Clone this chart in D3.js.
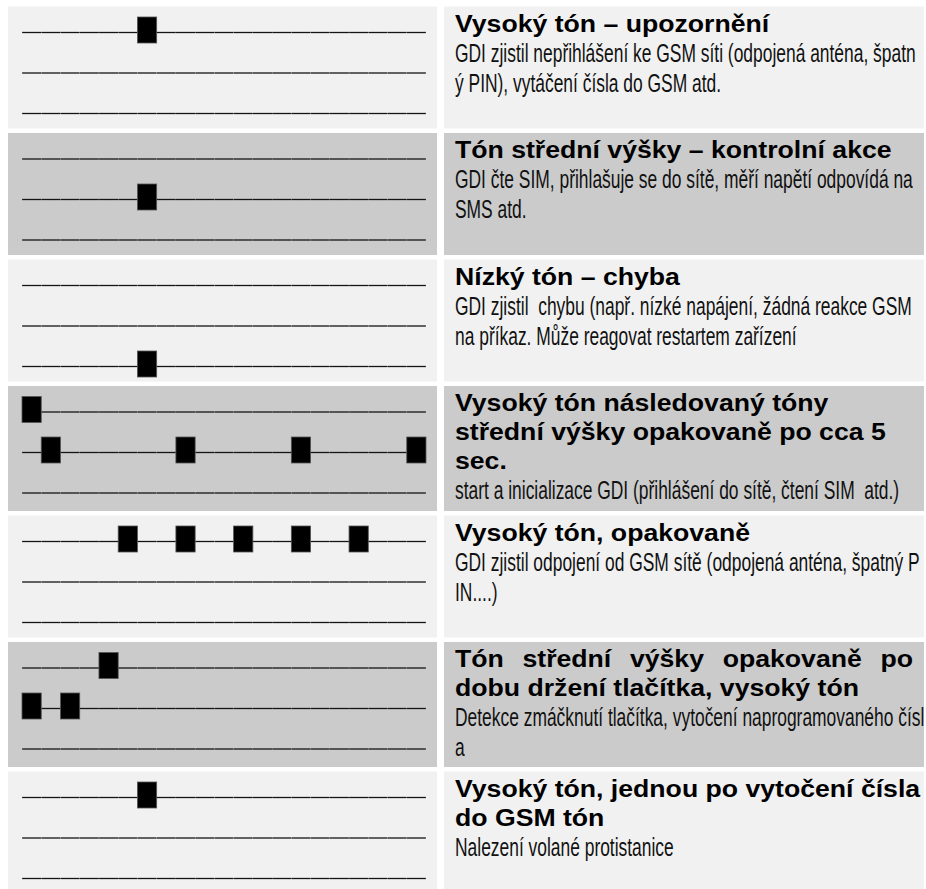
<!DOCTYPE html>
<html>
<head>
<meta charset="utf-8">
<script src="https://cdn.jsdelivr.net/npm/d3@7/dist/d3.min.js"></script>
<style>
  html, body { margin: 0; padding: 0; background: #ffffff; }
  text { white-space: pre; }
</style>
</head>
<body>
<script>
// ---------- data ----------
const levels = ["high", "mid", "low"];

const titles = [
  ["Vysoký tón – upozornění"],
  ["Tón střední výšky – kontrolní akce"],
  ["Nízký tón – chyba"],
  ["Vysoký tón následovaný tóny", "střední výšky opakovaně po cca 5", "sec."],
  ["Vysoký tón, opakovaně"],
  ["Tón střední výšky opakovaně po", "dobu držení tlačítka, vysoký tón"],
  ["Vysoký tón, jednou po vytočení čísla", "do GSM tón"]
];

const titleJustified = [false, false, false, false, false, true, false];

const bodies = [
  ["GDI zjistil nepřihlášení ke GSM síti (odpojená anténa, špatn", "ý PIN), vytáčení čísla do GSM atd."],
  ["GDI čte SIM, přihlašuje se do sítě, měří napětí odpovídá na", "SMS atd."],
  ["GDI zjistil  chybu (např. nízké napájení, žádná reakce GSM", "na příkaz. Může reagovat restartem zařízení"],
  ["start a inicializace GDI (přihlášení do sítě, čtení SIM  atd.)"],
  ["GDI zjistil odpojení od GSM sítě (odpojená anténa, špatný P", "IN....)"],
  ["Detekce zmáčknutí tlačítka, vytočení naprogramovaného čísl", "a"],
  ["Nalezení volané protistanice"]
];

// tone marks: level of each beep and its time slot (0..20)
const toneLevels = [
  ["high"],
  ["mid"],
  ["low"],
  ["high", "mid", "mid", "mid", "mid"],
  ["high", "high", "high", "high", "high"],
  ["high", "mid", "mid"],
  ["high"]
];
const toneSlots = [
  [6],
  [6],
  [6],
  [0, 1, 8, 14, 20],
  [5, 8, 11, 14, 17],
  [4, 0, 2],
  [6]
];
const slotCount = 21;

// ---------- layout ----------
const W = 926, H = 889;
const rowColors = ["#f1f1f1", "#cbcbcb"];

const svg = d3.select("body").append("svg")
  .attr("width", W).attr("height", H);

const x = d3.scaleBand().domain(d3.range(slotCount)).range([22, 426]).paddingInner(0);

// compute row tops/heights from content
const rowTops = [], rowHeights = [];
let yCursor = 6.5;
titles.forEach((t, i) => {
  const n = t.length + bodies[i].length;
  const h = Math.max(122, 25 + n * 25);
  rowTops.push(yCursor);
  rowHeights.push(h);
  yCursor += h + 4.5;
});

const TITLE_FS = 24, TITLE_SX = 1.11, BODY_SX = 0.697;
const textX = 455, rightLimit = 913;
const fontFam = "'Liberation Sans', Arial, sans-serif";

titles.forEach((tLines, i) => {
  const top = rowTops[i], h = rowHeights[i];
  const g = svg.append("g");
  const bg = rowColors[i % 2];

  g.append("rect").attr("x", 8).attr("y", top).attr("width", 429).attr("height", h).attr("fill", bg);
  g.append("rect").attr("x", 444).attr("y", top).attr("width", 480).attr("height", h).attr("fill", bg);

  // staff
  const y = d3.scalePoint().domain(levels).range([top + 26, top + 107]);
  levels.forEach(lv => {
    g.selectAll(null).data(d3.range(slotCount)).enter().append("line")
      .attr("x1", s => x(s) + 0.12)
      .attr("x2", s => x(s) + x.bandwidth() - 0.12)
      .attr("y1", y(lv)).attr("y2", y(lv))
      .attr("stroke", "#141414").attr("stroke-width", 1.3);
  });

  // tone blocks
  const tones = toneSlots[i].map((s, k) => ({ slot: s, level: toneLevels[i][k] }));
  g.selectAll(null).data(tones).enter().append("rect")
    .attr("x", d => x(d.slot))
    .attr("y", d => y(d.level) - 15.5)
    .attr("width", x.bandwidth())
    .attr("height", 26)
    .attr("fill", "#000")
    .attr("stroke", "#555")
    .attr("stroke-width", 0.8);

  // titles
  tLines.forEach((line, j) => {
    const base = top + 25 + 29 * j;
    const tg = g.append("g").attr("transform", `translate(${textX},${base}) scale(${TITLE_SX},1)`);
    const isLastLine = j === tLines.length - 1;
    if (titleJustified[i] && !isLastLine) {
      const words = line.split(" ");
      const nodes = words.map(w => tg.append("text")
        .attr("font-family", fontFam)
        .attr("font-weight", "bold").attr("font-size", TITLE_FS).attr("fill", "#000")
        .text(w));
      const widths = nodes.map(n => n.node().getComputedTextLength());
      const target = (rightLimit - textX) / TITLE_SX;
      const gap = (target - d3.sum(widths)) / (words.length - 1);
      let cx = 0;
      nodes.forEach((n, k) => { n.attr("x", cx); cx += widths[k] + gap; });
    } else {
      tg.append("text")
        .attr("font-family", fontFam)
        .attr("font-weight", "bold").attr("font-size", TITLE_FS).attr("fill", "#000")
        .text(line);
    }
  });

  // body
  const lastTitle = top + 25 + 29 * (tLines.length - 1);
  bodies[i].forEach((line, j) => {
    const base = lastTitle + 30 + 30 * j;
    g.append("g").attr("transform", `translate(${textX},${base}) scale(${BODY_SX},1)`)
      .append("text")
      .attr("font-family", fontFam)
      .attr("font-size", 25).attr("fill", "#111")
      .text(line);
  });
});
</script>
</body>
</html>
